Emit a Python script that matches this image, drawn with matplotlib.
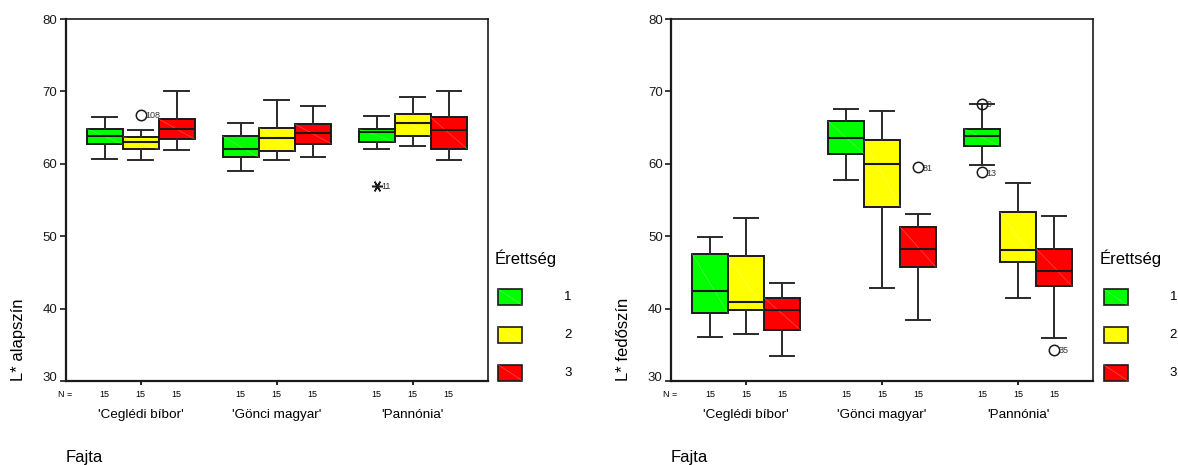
import matplotlib
matplotlib.use("Agg")
import matplotlib.pyplot as plt
from matplotlib.patches import Rectangle
from matplotlib.lines import Line2D

plt.rcParams['font.family'] = ['Liberation Sans', 'DejaVu Sans']

# ---------------- data ----------------
categories = ["'Ceglédi bíbor'", "'Gönci magyar'", "'Pannónia'"]
levels = ['1', '2', '3']
level_colors = ['#00FF00', '#FFFF00', '#FF0000']
n_counts = [[15, 15, 15], [15, 15, 15], [15, 15, 15]]
yticks = [30, 40, 50, 60, 70, 80]

# L* alapszín  (rows: category, cols: level 1,2,3)
whislo_a = [[60.7, 60.5, 61.9], [59.0, 60.5, 61.0], [62.0, 62.4, 60.5]]
q1_a     = [[62.7, 62.0, 63.4], [60.9, 61.8, 62.8], [63.0, 63.8, 62.1]]
med_a    = [[63.8, 63.0, 64.85], [62.1, 63.5, 64.3], [64.4, 65.7, 64.7]]
q3_a     = [[64.85, 63.75, 66.2], [63.8, 65.0, 65.5], [64.8, 66.9, 66.4]]
whishi_a = [[66.4, 64.7, 70.05], [65.7, 68.85, 68.0], [66.6, 69.2, 70.1]]
# outliers: (category, level, value, case label, kind)
out_a = [(0, 1, 66.8, '108', 'o'), (2, 0, 56.9, '11', '*')]

# L* fedőszín
whislo_f = [[36.1, 36.45, 33.5], [57.7, 42.9, 38.4], [59.8, 41.5, 35.9]]
q1_f     = [[39.4, 39.8, 37.1], [61.4, 54.1, 45.7], [62.4, 46.4, 43.1]]
med_f    = [[42.5, 40.9, 39.8], [63.5, 60.0, 48.3], [63.8, 48.1, 45.15]]
q3_f     = [[47.6, 47.3, 41.5], [65.9, 63.25, 51.3], [64.85, 53.3, 48.3]]
whishi_f = [[49.9, 52.5, 43.6], [67.6, 67.3, 53.0], [68.3, 57.35, 52.8]]
out_f = [(1, 2, 59.5, '81', 'o'), (2, 0, 68.3, '9', 'o'),
         (2, 0, 58.8, '13', 'o'), (2, 2, 34.3, '35', 'o')]

# ---------------- layout ----------------
W, H = 1178, 465
fig = plt.figure(figsize=(W / 100, H / 100), dpi=100)

ax_top, ax_bot = 19, 381
ax_w = 422
lefts = [65.7, 671.0]

offs = [-0.265, 0.0, 0.265]
bw = 0.265
capw = 0.18
EDGE = '#1a1a1a'


def fx(x):
    return x / W


def fy(y):
    return 1 - y / H


def draw_panel(left_px, ylabel, whislo, q1, med, q3, whishi, outs):
    ax = fig.add_axes([fx(left_px), fy(ax_bot), ax_w / W, (ax_bot - ax_top) / H])
    for ci in range(len(categories)):
        stats, pos = [], []
        for li in range(len(levels)):
            stats.append(dict(med=med[ci][li], q1=q1[ci][li], q3=q3[ci][li],
                              whislo=whislo[ci][li], whishi=whishi[ci][li], fliers=[]))
            pos.append(ci + 1 + offs[li])
        bp = ax.bxp(stats, positions=pos, widths=bw, patch_artist=True,
                    showfliers=False, capwidths=capw,
                    boxprops=dict(edgecolor=EDGE, linewidth=1.4),
                    whiskerprops=dict(color='#2a2a2a', linewidth=1.4),
                    capprops=dict(color='#2a2a2a', linewidth=1.4),
                    medianprops=dict(color=EDGE, linewidth=1.5))
        for li, b in enumerate(bp['boxes']):
            b.set_facecolor(level_colors[li])
            b.set_zorder(2)
            x0 = pos[li] - bw / 2
            ax.plot([x0, x0 + bw], [q3[ci][li], q1[ci][li]], color='white',
                    alpha=0.3, lw=0.5, zorder=2.5)
        for m in bp['medians']:
            m.set_zorder(3)
    for (ci, li, val, lab, kind) in outs:
        x = ci + 1 + offs[li]
        if kind == 'o':
            ax.plot([x], [val], marker='o', ms=7.5, mfc='none', mec='#1a1a1a',
                    mew=1.1, zorder=4)
        else:
            ax.plot([x], [val], marker=(6, 2, 90), ms=8, mec='#1a1a1a',
                    mew=1.1, zorder=4)
        ax.annotate(lab, (x, val), xytext=(3.2, -0.5), textcoords='offset points',
                    ha='left', va='center', fontsize=6.5, color='#333333')

    ax.set_xlim(0.449, 3.551)
    ax.set_ylim(30, 80)
    ax.set_yticks(yticks)
    ax.set_yticklabels([str(t) for t in yticks], fontsize=9.5)
    ax.get_yticklabels()[0].set_va('baseline')
    ax.set_xticks([1, 2, 3])
    ax.set_xticklabels([])
    ax.tick_params(axis='y', direction='out', length=4, width=1.2, pad=2,
                   colors='#1a1a1a')
    ax.tick_params(axis='x', direction='out', length=3, width=1.2)
    for s in ['left', 'bottom']:
        ax.spines[s].set_linewidth(1.6)
    for s in ['top', 'right']:
        ax.spines[s].set_linewidth(1.2)
    for s in ax.spines.values():
        s.set_color('#1a1a1a')

    trans = ax.get_xaxis_transform()
    # N = row
    ax.text(0.449 - 0.0045, -0.036, 'N =', transform=trans, ha='center',
            va='center', fontsize=6.5)
    for ci in range(len(categories)):
        for li in range(len(levels)):
            ax.text(ci + 1 + offs[li], -0.036, str(n_counts[ci][li]),
                    transform=trans, ha='center', va='center', fontsize=6.5)
        ax.text(ci + 1, -0.094, categories[ci], transform=trans, ha='center',
                va='center', fontsize=9.7)
    ax.text(0.0, -0.211, 'Fajta', transform=ax.transAxes, ha='left',
            va='center', fontsize=12)
    ax.text(-0.113, 0.0, ylabel, transform=ax.transAxes, rotation=90,
            ha='center', va='bottom', fontsize=12)

    # legend
    right_px = left_px + ax_w
    fig.text(fx(right_px + 6.5), fy(258), 'Érettség', ha='left', va='center',
             fontsize=12)
    centers = [297.3, 335.3, 372.7]
    for li in range(len(levels)):
        x0, y0 = right_px + 10.6, centers[li] + 8
        r = Rectangle((fx(x0), fy(y0)), 24 / W, 16 / H, transform=fig.transFigure,
                      facecolor=level_colors[li], edgecolor=EDGE, linewidth=1.2)
        fig.add_artist(r)
        fig.add_artist(Line2D([fx(x0), fx(x0 + 24)], [fy(y0 - 16), fy(y0)],
                              transform=fig.transFigure, color='white',
                              alpha=0.3, lw=0.5))
        fig.text(fx(right_px + 80.5), fy(centers[li]), levels[li], ha='center',
                 va='center', fontsize=9.5)
    return ax


draw_panel(lefts[0], 'L* alapszín', whislo_a, q1_a, med_a, q3_a, whishi_a, out_a)
draw_panel(lefts[1], 'L* fedőszín', whislo_f, q1_f, med_f, q3_f, whishi_f, out_f)

fig.savefig('out.png', dpi=100, facecolor='white')
